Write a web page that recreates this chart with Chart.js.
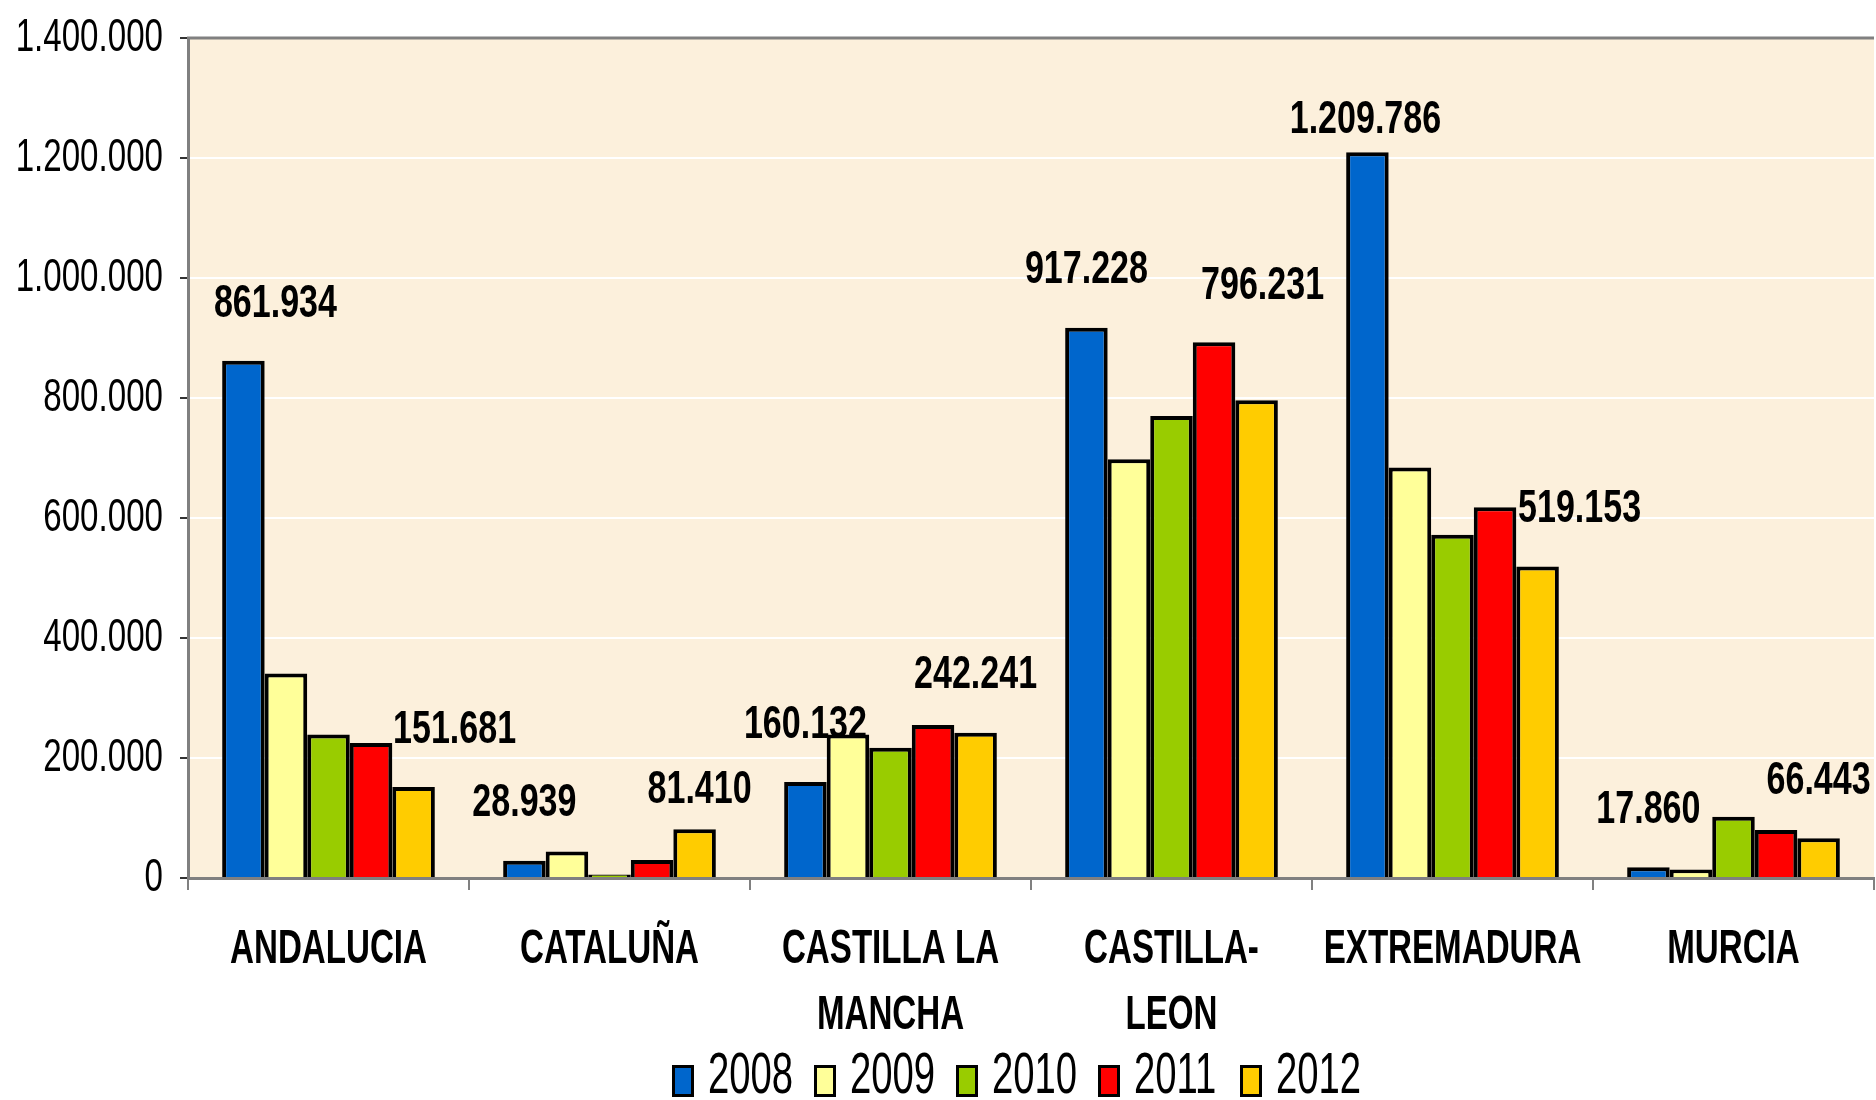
<!DOCTYPE html>
<html>
<head>
<meta charset="utf-8">
<script src="https://cdn.jsdelivr.net/npm/chart.js@4/dist/chart.umd.min.js"></script>
<style>
  body { margin: 0; background: #fff; }
  #wrap { width: 1876px; height: 1100px; }
</style>
</head>
<body>
<div id="wrap"><canvas id="chart" width="1876" height="1100"></canvas></div>
<script>
const categories = [['ANDALUCIA'], ['CATALUÑA'], ['CASTILLA LA', 'MANCHA'], ['CASTILLA-', 'LEON'], ['EXTREMADURA'], ['MURCIA']];
const years = ['2008', '2009', '2010', '2011', '2012'];
const v2008 = [861934, 28939, 160132, 917228, 1209786, 17860];
const v2009 = [341000, 44000, 239000, 698000, 684000, 14000];
const v2010 = [239000, 6000, 217000, 770000, 572000, 102000];
const v2011 = [225000, 30000, 255000, 893000, 618000, 80000];
const v2012 = [151681, 81410, 242241, 796231, 519153, 66443];
const yTicks = [0, 200000, 400000, 600000, 800000, 1000000, 1200000, 1400000];

const colors = ['#0066CC', '#FFFF99', '#99CC00', '#FF0000', '#FFCC00'];
const FONT = "'Liberation Sans', Arial, sans-serif";

// which series get value labels, and hand nudges like the original (category-series)
const labelled = [0, 4];
const nudge = { '0-0': [32, 0], '0-4': [41, 0], '4-4': [42, 0], '4-0': [-2, 25], '3-4': [6, -57], '1-4': [5, 18] };

const fmt = v => String(Math.round(v)).replace(/\B(?=(\d{3})+(?!\d))/g, '.');

// no narrow font installed, so squeeze the text horizontally
function squeezeText(ctx, text, x, y, font, sx, align) {
    ctx.save();
    ctx.font = font;
    ctx.fillStyle = '#000';
    ctx.textAlign = align;
    ctx.textBaseline = 'middle';
    ctx.translate(x, y);
    ctx.scale(sx, 1);
    ctx.fillText(text, 0, 0);
    ctx.restore();
}

const bgPlugin = {
    id: 'bg',
    beforeDraw(chart) {
        const { ctx, chartArea: a } = chart;
        ctx.save();
        ctx.fillStyle = '#FCF0DC';
        ctx.fillRect(a.left, a.top, a.right - a.left, a.bottom - a.top);
        ctx.restore();
    },
    afterDraw(chart) {
        const { ctx, chartArea: a } = chart;
        ctx.save();
        ctx.strokeStyle = '#808080';
        ctx.lineWidth = 3;
        ctx.beginPath();
        ctx.moveTo(a.left - 1, a.top);
        ctx.lineTo(a.right, a.top);
        ctx.stroke();
        ctx.restore();

        // y tick labels
        const y = chart.scales.y;
        yTicks.forEach(v => squeezeText(ctx, fmt(v), 163, y.getPixelForValue(v), '46px ' + FONT, 0.72, 'right'));

        // category labels
        const x = chart.scales.x;
        categories.forEach((lines, i) => {
            lines.forEach((t, j) => squeezeText(ctx, t, x.getPixelForValue(i), 950 + j * 66, 'bold 48px ' + FONT, 0.69, 'center'));
        });

        // legend
        chart.data.datasets.forEach((ds, i) => {
            const bx = 672 + i * 142;
            ctx.save();
            ctx.fillStyle = ds.backgroundColor;
            ctx.fillRect(bx, 1065, 22, 32);
            ctx.strokeStyle = '#000';
            ctx.lineWidth = 3;
            ctx.strokeRect(bx + 1.5, 1066.5, 19, 29);
            ctx.restore();
            squeezeText(ctx, ds.label, bx + 36, 1077, '58px ' + FONT, 0.66, 'left');
        });
    }
};

const valueLabels = {
    id: 'valueLabels',
    afterDatasetsDraw(chart) {
        const ctx = chart.ctx;
        labelled.forEach(di => {
            const meta = chart.getDatasetMeta(di);
            meta.data.forEach((bar, i) => {
                const n = nudge[i + '-' + di] || [0, 0];
                squeezeText(ctx, fmt(chart.data.datasets[di].data[i]), bar.x + n[0], bar.y - 57 + n[1], 'bold 46px ' + FONT, 0.74, 'center');
            });
        });
    }
};

const series = [v2008, v2009, v2010, v2011, v2012];

new Chart(document.getElementById('chart'), {
    type: 'bar',
    data: {
        labels: categories,
        datasets: series.map((d, i) => ({
            label: years[i],
            data: d,
            backgroundColor: colors[i],
            borderColor: '#000',
            borderWidth: 4,
            categoryPercentage: 0.757,
            barPercentage: 1
        }))
    },
    options: {
        responsive: false,
        animation: false,
        layout: { padding: { top: 38, right: 2, left: 0, bottom: 0 } },
        plugins: {
            tooltip: { enabled: false },
            legend: { display: false }
        },
        scales: {
            x: {
                grid: { drawOnChartArea: false, offset: true, tickLength: 12, color: '#808080', lineWidth: 2 },
                border: { color: '#808080', width: 3 },
                ticks: { color: 'rgba(0,0,0,0)', maxRotation: 0, autoSkip: false },
                afterFit(scale) {
                    scale.height = 1100 - 878;
                }
            },
            y: {
                min: 0,
                max: 1400000,
                afterBuildTicks(scale) {
                    scale.ticks = yTicks.map(v => ({ value: v }));
                },
                grid: { color: '#FFFFFF', lineWidth: 2, tickLength: 8, tickColor: '#333' },
                border: { color: '#808080', width: 3 },
                ticks: { color: 'rgba(0,0,0,0)', callback: v => fmt(v) },
                afterFit(scale) {
                    scale.width = 188;
                }
            }
        }
    },
    plugins: [bgPlugin, valueLabels]
});
</script>
</body>
</html>
